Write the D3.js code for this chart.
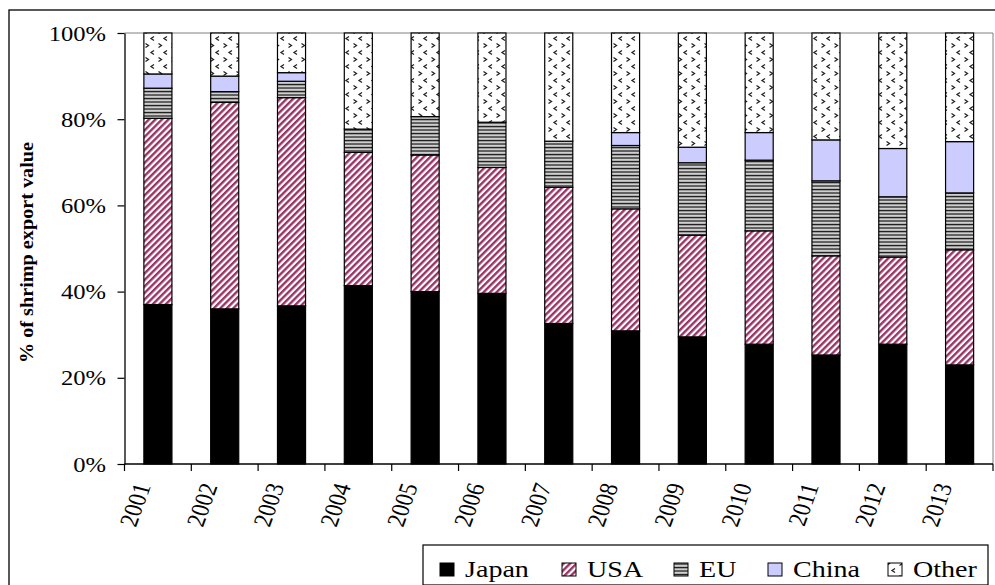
<!DOCTYPE html>
<html>
<head>
<meta charset="utf-8">
<script src="https://cdn.jsdelivr.net/npm/d3@7"></script>
<style>
  html, body { margin: 0; padding: 0; background: #fff; }
  svg { display: block; }
  svg text { font-family: 'Liberation Serif', serif !important; fill: #000; }
</style>
</head>
<body>
<svg id="chart" width="995" height="585"></svg>
<script>
// ---- data (share of shrimp export value, %) ----
const years  = ["2001","2002","2003","2004","2005","2006","2007","2008","2009","2010","2011","2012","2013"];
const seriesNames = ["Japan","USA","EU","China","Other"];
const japan  = [37.0, 36.0, 36.7, 41.4, 40.0, 39.6, 32.6, 30.9, 29.5, 27.8, 25.3, 27.8, 23.0];
const usa    = [43.2, 47.9, 48.3, 30.9, 31.7, 29.2, 31.6, 28.3, 23.6, 26.3, 23.0, 20.2, 26.7];
const eu     = [ 7.0,  2.5,  3.8,  5.4,  8.9, 10.5, 10.7, 14.7, 16.8, 16.4, 17.4, 14.0, 13.2];
const china  = [ 3.3,  3.6,  2.0,  0.0,  0.0,  0.0,  0.0,  3.0,  3.6,  6.4,  9.5, 11.2, 11.9];
const other  = [ 9.5, 10.0,  9.2, 22.3, 19.4, 20.7, 25.1, 23.1, 26.5, 23.1, 24.8, 26.8, 25.2];
const yTicks = [0, 20, 40, 60, 80, 100];
const yTitle = "% of shrimp export value";

(function () {
const FONT = "'Liberation Serif', serif";
const rows = years.map((yr, i) => ({
  year: yr, Japan: japan[i], USA: usa[i], EU: eu[i], China: china[i], Other: other[i]
}));

const svg = d3.select("#chart");
const defs = svg.append("defs");

// USA: diagonal maroon stripes
const pUSA = defs.append("pattern").attr("id","pUSA").attr("patternUnits","userSpaceOnUse")
  .attr("width",4.6).attr("height",4.6).attr("patternTransform","rotate(45)");
pUSA.append("rect").attr("width",4.6).attr("height",4.6).attr("fill","#fff");
pUSA.append("rect").attr("width",2.4).attr("height",4.6).attr("fill","#993366");

// EU: narrow horizontal lines
const pEU = defs.append("pattern").attr("id","pEU").attr("patternUnits","userSpaceOnUse")
  .attr("width",4).attr("height",3.5);
pEU.append("rect").attr("width",4).attr("height",3.5).attr("fill","#9a9a9a");
pEU.append("rect").attr("y",0).attr("width",4).attr("height",1).attr("fill","#1a1a1a");
pEU.append("rect").attr("y",2).attr("width",4).attr("height",0.8).attr("fill","#fff");

// Other: small chevrons on white
const pOth = defs.append("pattern").attr("id","pOther").attr("patternUnits","userSpaceOnUse")
  .attr("width",13).attr("height",14);
pOth.append("rect").attr("width",13).attr("height",14).attr("fill","#fff");
pOth.append("path").attr("d","M2.5,1.5 L5.5,3.5 L2.5,5.5").attr("fill","none").attr("stroke","#222").attr("stroke-width",1.3);
pOth.append("path").attr("d","M11,8.5 L8,10.5 L11,12.5").attr("fill","none").attr("stroke","#222").attr("stroke-width",1.3);

const fills = { Japan: "#000", USA: "url(#pUSA)", EU: "url(#pEU)", China: "#ccccff", Other: "url(#pOther)" };

// outer chart border
svg.append("rect").attr("x",9).attr("y",10).attr("width",1000).attr("height",600)
  .attr("fill","none").attr("stroke","#000").attr("stroke-width",1.3);

const pLeft = 124.5, pRight = 993, pTop = 33, pBottom = 464;

const x = d3.scaleBand().domain(years).range([pLeft, pRight]).paddingInner(0.58).paddingOuter(0.29);
const y = d3.scaleLinear().domain([0, 100]).range([pBottom, pTop]);

// plot area border (top/right)
svg.append("path").attr("d", `M${pLeft},${pTop} H${pRight} V${pBottom}`)
  .attr("fill","none").attr("stroke","#808080").attr("stroke-width",1);

const stacked = d3.stack().keys(seriesNames)(rows);

const layers = svg.append("g").selectAll("g").data(stacked).join("g")
  .attr("fill", d => fills[d.key]);
layers.selectAll("rect").data(d => d.map(v => ({v, key: d.key})))
  .join("rect")
  .attr("x", d => x(d.v.data.year))
  .attr("width", x.bandwidth())
  .attr("y", d => y(d.v[1]))
  .attr("height", d => Math.max(0, y(d.v[0]) - y(d.v[1])))
  .attr("stroke", "#000").attr("stroke-width", 1.2)
  .style("display", d => (d.v[1]-d.v[0]) > 0 ? null : "none");

// y axis
const yAxis = svg.append("g").attr("transform", `translate(${pLeft},0)`)
  .call(d3.axisLeft(y).tickValues(yTicks).tickFormat(d => d + "%").tickSize(7).tickSizeOuter(0));
yAxis.attr("font-family", FONT);
yAxis.select(".domain").attr("stroke","#000").attr("stroke-width",1.3);
yAxis.selectAll(".tick line").attr("stroke","#000").attr("stroke-width",1.2);
yAxis.selectAll(".tick text")
  .attr("font-size", 21).style("font-family", FONT)
  .attr("x", 0).attr("dy", "0.34em")
  .attr("transform", "translate(-18.5,0) scale(1.17,1)");

// x axis
svg.append("line").attr("x1", pLeft).attr("x2", pRight).attr("y1", pBottom).attr("y2", pBottom)
  .attr("stroke","#000").attr("stroke-width",1.3);
const bounds = years.map(yr => x(yr) + x.bandwidth()/2 - x.step()/2);
bounds.push(x(years[years.length-1]) + x.bandwidth()/2 + x.step()/2);
svg.append("g").selectAll("line").data(bounds).join("line")
  .attr("x1", d => d).attr("x2", d => d).attr("y1", pBottom).attr("y2", pBottom + 7)
  .attr("stroke","#000").attr("stroke-width",1.2);

svg.append("g").selectAll("text").data(years).join("text")
  .attr("transform", d => `translate(${x(d) + x.bandwidth()/2 - 7},${pBottom + 22}) scale(1.17,1) rotate(-73)`)
  .attr("text-anchor","end")
  .attr("font-size", 22)
  .style("font-family", FONT)
  .text(d => d);

// y title
svg.append("text")
  .attr("transform", `translate(33,${(142+363)/2}) rotate(-90)`)
  .attr("text-anchor","middle")
  .attr("font-size", 19).attr("font-weight","bold")
  .style("font-family", FONT)
  .attr("textLength", 221).attr("lengthAdjust","spacingAndGlyphs")
  .text(yTitle);

// legend
const lg = svg.append("g");
lg.append("rect").attr("x",423).attr("y",545).attr("width",565).attr("height",40)
  .attr("fill","#fff").attr("stroke","#000").attr("stroke-width",1.2);
const legendX = [440, 562, 674, 768, 888];
seriesNames.forEach((s, i) => {
  lg.append("rect").attr("x", legendX[i]).attr("y", 563).attr("width", 14).attr("height", 13)
    .attr("fill", fills[s]).attr("stroke","#000").attr("stroke-width",1);
  lg.append("text").attr("x", 0).attr("y", 0)
    .attr("transform", `translate(${legendX[i] + 25},577) scale(1.17,1)`)
    .attr("font-size", 24).style("font-family", FONT).text(s);
});
})();
</script>
</body>
</html>
